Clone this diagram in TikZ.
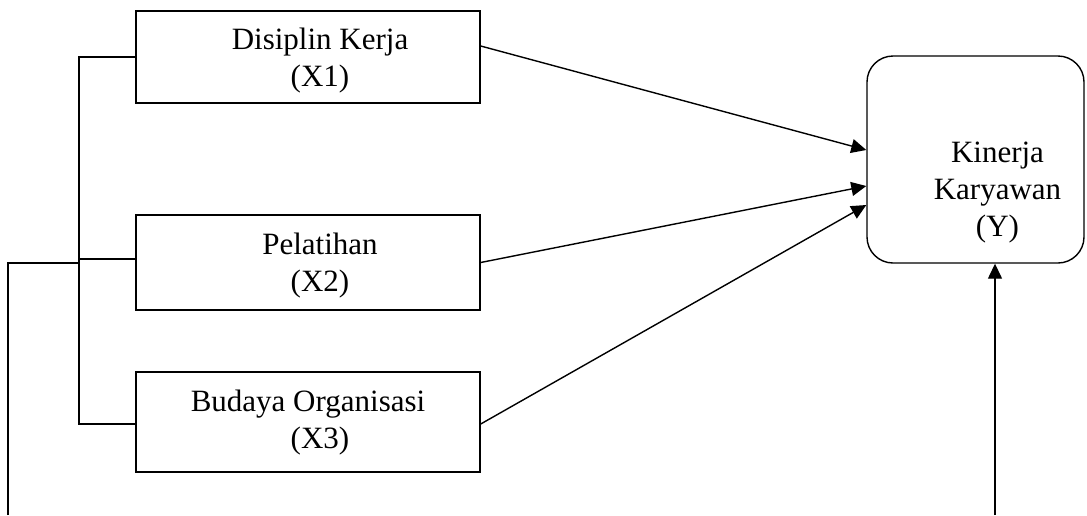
\documentclass[tikz,border=0pt]{standalone}
\usepackage{fontspec}
\setmainfont{Liberation Serif}
\usetikzlibrary{arrows.meta}
\begin{document}
\begin{tikzpicture}[x=1pt,y=-1pt,
  lw/.style={line width=1.4pt},
  varbox/.style={lw, draw, rectangle, inner sep=0pt, minimum width=344pt},
  ybox/.style={lw, draw, rectangle, rounded corners=26pt, inner sep=0pt, minimum width=217pt, minimum height=207pt},
  txt/.style={align=center, font=\fontsize{31}{37}\selectfont},
  arr/.style={lw, -{Triangle[length=15pt,width=14pt]}},
  conn/.style={lw}]
\useasboundingbox (0,0) rectangle (1087,515);
\node[varbox, minimum height=92pt] (x1) at (308,57) {};
\node[txt, xshift=12pt, yshift=-4pt] (x1t) at (x1.center) {Disiplin Kerja\\(X1)};
\node[varbox, minimum height=95pt] (x2) at (308,262.5) {};
\node[txt, xshift=12pt, yshift=-3pt] (x2t) at (x2.center) {Pelatihan\\(X2)};
\node[varbox, minimum height=100pt] (x3) at (308,422) {};
\node[txt, yshift=-1pt] (x3t) at (x3.center) {Budaya Organisasi\\\hspace*{24pt}(X3)};
\node[ybox] (y) at (975.5,159.5) {};
\node[txt, xshift=22pt, yshift=-33pt] (yt) at (y.center) {Kinerja\\Karyawan\\(Y)};
% tree on the left
\coordinate (bt) at (79,57);
\coordinate (bb) at (79,424);
\coordinate (bm) at (79,263);
\coordinate (lb) at (8,515);
\draw[conn] (x1.west) -- (bt) -- (bb) -- (x3.west |- bb);
\draw[conn] (bt |- 0,259) -- (x2.west |- 0,259);
\draw[conn] (lb) |- (bm);
% arrows
\draw[arr] ([yshift=11pt]x1.east) -- ([yshift=9.5pt]y.west);
\draw[arr] (x2.east) -- ([yshift=-26.5pt]y.west);
\draw[arr] ([yshift=-2pt]x3.east) -- ([yshift=-45.5pt]y.west);
\coordinate (yb) at (995,515);
\draw[arr] (yb) -- (yb |- y.south);
\end{tikzpicture}
\end{document}
